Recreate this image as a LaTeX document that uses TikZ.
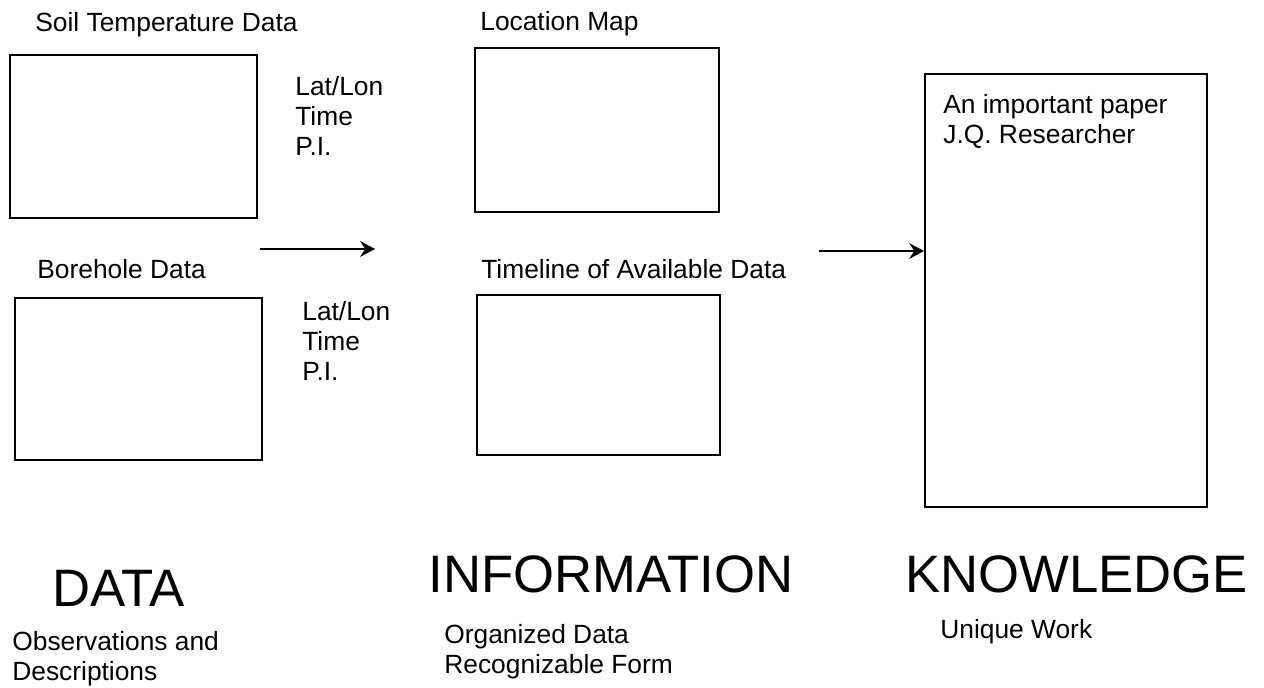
\documentclass[tikz,border=0pt]{standalone}
\usepackage{fontspec}
\setmainfont{Liberation Sans}
\usetikzlibrary{arrows.meta}

\begin{document}
\begin{tikzpicture}[
    x=0.02cm, y=-0.02cm,
    >={Stealth[length=8.5pt,width=9pt,inset=3pt]},
    panel/.style={rectangle, draw, line width=1.1pt, inner sep=0pt},
    lbl/.style={anchor=base west, inner sep=0pt, font=\fontsize{15}{17}\selectfont},
    note/.style={anchor=north west, inner sep=0pt, align=left, font=\fontsize{15}{17}\selectfont},
    big/.style={anchor=base west, inner sep=0pt, font=\fontsize{30}{32}\selectfont},
    arr/.style={->, line width=1pt}
]
    \useasboundingbox (0,0) rectangle (1264,687);
    % data column
    \node[panel, minimum width=4.94cm, minimum height=3.26cm] (soil) at (133.5,136.5) {};
    \node[lbl] (soillbl) at (35,31) {Soil Temperature Data};
    \node[note] (meta1) at (295,76) {Lat/Lon\\Time\\P.I.};
    \node[panel, minimum width=4.94cm, minimum height=3.24cm] (bore) at (138.5,379) {};
    \node[lbl] (borelbl) at (37,278) {Borehole Data};
    \node[note] (meta2) at (302,301) {Lat/Lon\\Time\\P.I.};
    % information column
    \node[panel, minimum width=4.88cm, minimum height=3.28cm] (locmap) at (597,130) {};
    \node[lbl] (locmaplbl) at (480,30) {Location Map};
    \node[panel, minimum width=4.86cm, minimum height=3.2cm] (timeline) at (598.5,375) {};
    \node[lbl] (timelinelbl) at (481,278) {Timeline of Available Data};
    % knowledge column
    \node[panel, minimum width=5.64cm, minimum height=8.66cm] (know) at (1066,290.5) {};
    \node[note] (paper) at (943,94) {An important paper\\J.Q. Researcher};
    % arrows
    \coordinate (a1s) at (260,249);
    \coordinate (a1e) at (375,249);
    \coordinate (a2s) at (819,251);
    \draw[arr] (a1s) -- (a1e);
    \draw[arr] (a2s) -- (a2s -| know.west);
    % headings
    \node[big] (data) at (52,606) {DATA};
    \node[note] (datasub) at (12,631) {Observations and\\Descriptions};
    \node[big] (info) at (428,592) {INFORMATION};
    \node[note] (infosub) at (444,624) {Organized Data\\Recognizable Form};
    \node[big] (knowl) at (905,592) {KNOWLEDGE};
    \node[lbl] (knowlsub) at (940,638) {Unique Work};
\end{tikzpicture}
\end{document}
